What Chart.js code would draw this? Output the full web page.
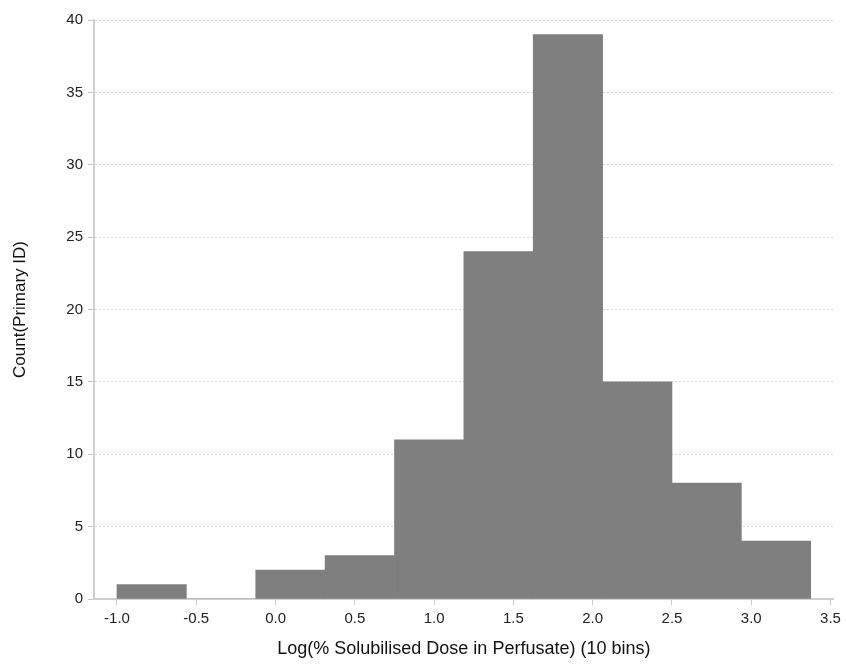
<!DOCTYPE html>
<html>
<head>
<meta charset="utf-8">
<script src="https://cdn.jsdelivr.net/npm/chart.js@4"></script>
<style>
  html, body { margin: 0; padding: 0; background: #fff; }
  #wrap { width: 846px; height: 672px; }
</style>
</head>
<body>
<div id="wrap"><canvas id="histChart" width="846" height="672"></canvas></div>
<script>
// ------------------------------------------------------------
// Histogram data
// ------------------------------------------------------------
const binEdges = [-1.0, -0.5625, -0.125, 0.3125, 0.75, 1.1875, 1.625, 2.0625, 2.5, 2.9375, 3.375];
const binCounts = [1, 0, 2, 3, 11, 24, 39, 15, 8, 4];
const xTickValues = [-1.0, -0.5, 0.0, 0.5, 1.0, 1.5, 2.0, 2.5, 3.0, 3.5];
const yTickValues = [0, 5, 10, 15, 20, 25, 30, 35, 40];

const xTitle = "Log(% Solubilised Dose in Perfusate) (10 bins)";
const yTitle = "Count(Primary ID)";

// bar centred on each bin
const points = binCounts.map((c, i) => ({
  x: (binEdges[i] + binEdges[i + 1]) / 2,
  y: c,
}));

const fontFamily = "'Liberation Sans', Arial, sans-serif";

const ctx = document.getElementById("histChart").getContext("2d");

new Chart(ctx, {
  type: "bar",
  data: {
    datasets: [
      {
        label: "Count",
        data: points,
        backgroundColor: "#7f7f7f",
        borderWidth: 0,
        barPercentage: 1.0,
        categoryPercentage: 1.0,
      },
    ],
  },
  options: {
    responsive: false,
    animation: false,
    layout: { padding: { top: 20, right: 8, left: 10, bottom: 12 } },
    plugins: {
      legend: { display: false },
      tooltip: { enabled: false },
    },
    scales: {
      x: {
        type: "linear",
        offset: false,
        min: -1.145,
        max: 3.52,
        afterBuildTicks: (scale) => {
          scale.ticks = xTickValues.map((v) => ({ value: v }));
        },
        afterFit: (scale) => {
          scale.height = 61;
        },
        ticks: {
          color: "#222",
          font: { family: fontFamily, size: 15 },
          padding: 5,
          maxRotation: 0,
          autoSkip: false,
          callback: (v) => Number(v).toFixed(1),
        },
        grid: {
          offset: false,
          drawOnChartArea: false,
          drawTicks: true,
          tickLength: 6,
          color: "#c8c8c8",
        },
        border: { color: "#cfcfcf", width: 2 },
        title: {
          display: true,
          text: xTitle,
          color: "#111",
          font: { family: fontFamily, size: 18 },
          padding: { top: 6, bottom: 0 },
        },
      },
      y: {
        min: 0,
        max: 40,
        afterBuildTicks: (scale) => {
          scale.ticks = yTickValues.map((v) => ({ value: v }));
        },
        afterFit: (scale) => {
          scale.width = 84;
        },
        ticks: {
          color: "#222",
          font: { family: fontFamily, size: 15 },
          padding: 5,
        },
        grid: {
          color: "#dadada",
          tickLength: 6,
          tickColor: "#c8c8c8",
        },
        border: { color: "#cfcfcf", width: 2, dash: [2, 2] },
        title: {
          display: true,
          text: yTitle,
          color: "#111",
          font: { family: fontFamily, size: 17 },
          padding: { top: 0, bottom: 2 },
        },
      },
    },
  },
});
</script>
</body>
</html>
